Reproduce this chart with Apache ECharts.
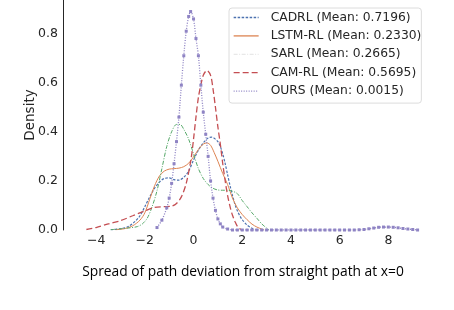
<!DOCTYPE html>
<html>
<head>
<meta charset="utf-8">
<script src="https://cdn.jsdelivr.net/npm/echarts@6/dist/echarts.min.js"></script>
<style>html,body{margin:0;padding:0;background:#fff;}#c{width:454px;height:310px;}</style>
</head>
<body>
<div id="c"></div>
<script>
// Estimated KDE curves
var seriesNames = ['CADRL (Mean: 0.7196)', 'LSTM-RL (Mean: 0.2330)', 'SARL (Mean: 0.2665)', 'CAM-RL (Mean: 0.5695)', 'OURS (Mean: 0.0015)'];
var xTicks = [-4, -2, 0, 2, 4, 6, 8];
var yTicks = [0, 0.2, 0.4, 0.6, 0.8];

var cadrlX = [-3.4,-3.0,-2.7,-2.4,-2.2,-2.0,-1.8,-1.6,-1.4,-1.2,-1.0,-0.8,-0.6,-0.4,-0.2,0.0,0.2,0.4,0.6,0.75,0.9,1.0,1.1,1.2,1.3,1.4,1.5,1.6,1.7,1.8,1.9,2.0,2.2,2.4,2.55];
var cadrlY = [0.001,0.005,0.013,0.035,0.058,0.095,0.135,0.17,0.195,0.21,0.212,0.205,0.203,0.215,0.24,0.285,0.325,0.355,0.375,0.378,0.37,0.36,0.34,0.31,0.27,0.225,0.18,0.14,0.105,0.078,0.058,0.042,0.02,0.007,0.0];

var lstmX = [-3.2,-2.8,-2.5,-2.2,-2.0,-1.8,-1.6,-1.4,-1.2,-1.0,-0.8,-0.6,-0.4,-0.2,0.0,0.2,0.4,0.55,0.7,0.85,1.0,1.2,1.4,1.6,1.8,2.0,2.2,2.4,2.6,2.8,2.9];
var lstmY = [0.001,0.006,0.017,0.04,0.07,0.125,0.18,0.22,0.24,0.248,0.25,0.252,0.258,0.272,0.298,0.328,0.35,0.355,0.345,0.315,0.28,0.23,0.185,0.13,0.09,0.063,0.042,0.024,0.012,0.004,0.0];

var sarlX = [-3.4,-3.0,-2.6,-2.3,-2.1,-1.9,-1.7,-1.5,-1.3,-1.1,-0.9,-0.7,-0.55,-0.4,-0.2,0.0,0.2,0.4,0.6,0.8,1.0,1.2,1.4,1.6,1.8,2.0,2.2,2.4,2.6,2.8,3.0,3.1];
var sarlY = [0.001,0.005,0.009,0.014,0.025,0.048,0.095,0.16,0.25,0.34,0.40,0.43,0.43,0.41,0.37,0.31,0.25,0.21,0.185,0.17,0.163,0.162,0.162,0.158,0.148,0.12,0.095,0.07,0.048,0.025,0.008,0.0];

var camX = [-4.4,-4.0,-3.5,-3.0,-2.5,-2.0,-1.6,-1.2,-0.9,-0.7,-0.5,-0.3,-0.1,0.0,0.1,0.2,0.3,0.4,0.55,0.7,0.8,0.9,1.0,1.1,1.2,1.3,1.4,1.5,1.6,1.7,1.8,1.9,2.0];
var camY = [0.002,0.01,0.025,0.038,0.058,0.078,0.092,0.095,0.097,0.108,0.135,0.19,0.29,0.37,0.46,0.54,0.59,0.63,0.65,0.63,0.575,0.50,0.42,0.35,0.27,0.20,0.14,0.095,0.06,0.035,0.015,0.005,0.0];

var oursX = [-1.5,-1.3,-1.1,-1.0,-0.9,-0.8,-0.7,-0.6,-0.5,-0.4,-0.3,-0.2,-0.12,0.0,0.1,0.2,0.3,0.4,0.5,0.6,0.7,0.8,0.9,1.0,1.1,1.2,1.4,1.6,1.8,2.0,2.2,2.4,2.6,2.8,3.0,3.2,3.4,3.6,3.8,4.0,4.2,4.4,4.6,4.8,5.0,5.2,5.4,5.6,5.8,6.0,6.2,6.4,6.6,6.8,7.0,7.2,7.4,7.6,7.8,8.0,8.2,8.4,8.6,8.8,9.0,9.2];
var oursY = [0.01,0.04,0.09,0.13,0.19,0.27,0.36,0.46,0.59,0.71,0.81,0.87,0.89,0.86,0.78,0.71,0.59,0.48,0.39,0.30,0.20,0.13,0.08,0.045,0.025,0.012,0.004,0.0,0.0,0.0,0.0,0.0,0.0,0.0,0.0,0.0,0.0,0.0,0.0,0.0,0.0,0.0,0.0,0.0,0.0,0.0,0.0,0.0,0.0,0.0,0.0,0.0,0.0,0.001,0.002,0.005,0.008,0.011,0.012,0.012,0.011,0.009,0.006,0.004,0.002,0.0];

function pairs(xs, ys) { return xs.map(function (x, i) { return [x, ys[i]]; }); }

var colors = ['#4c72b0', '#dd8452', '#55a868', '#c44e52', '#8f84c4'];
var styles = [
  {type: [2.5, 1.5], width: 1.2},
  {type: 'solid', width: 1},
  {type: [4, 1.5, 1, 1.5], width: 1},
  {type: [6, 3], width: 1.3},
  {type: [1, 1.5], width: 1.3}
];
var datasets = [pairs(cadrlX, cadrlY), pairs(lstmX, lstmY), pairs(sarlX, sarlY), pairs(camX, camY), pairs(oursX, oursY)];

var series = datasets.map(function (d, i) {
  var isOurs = i === 4;
  return {
    name: seriesNames[i],
    type: 'line',
    data: d,
    smooth: 0.3,
    symbol: isOurs ? 'rect' : 'none',
    symbolSize: isOurs ? 3 : 0,
    showSymbol: isOurs,
    itemStyle: {color: colors[i]},
    lineStyle: {color: colors[i], type: styles[i].type, width: styles[i].width},
    z: isOurs ? 3 : 2,
    silent: true,
    animation: false
  };
});

function fmt(v) {
  var s = (Math.abs(v) < 1e-9) ? '0' : String(Math.round(v * 10) / 10);
  return s.replace('-', '\u2212');
}

var legendData = seriesNames.map(function (n, i) {
  return {name: n, lineStyle: {width: 1.3, color: i === 2 ? '#e8e8e8' : colors[i], type: styles[i].type}};
});

var chart = echarts.init(document.getElementById('c'), null, {renderer: 'canvas'});
chart.setOption({
  animation: false,
  backgroundColor: '#fff',
  grid: {left: 63, top: 0, width: 367, height: 230, containLabel: false},
  legend: {
    orient: 'vertical',
    left: 229, top: 8,
    padding: [2.5, 0, 5, 4],
    itemWidth: 25, itemHeight: 14, itemGap: 4.4,
    backgroundColor: '#fff',
    borderColor: '#dcdcdc', borderWidth: 1, borderRadius: 3,
    itemStyle: {opacity: 0},
    textStyle: {fontFamily: 'DejaVu Sans', fontSize: 12.3, color: '#262626', padding: [0, 0, 0, 7], lineHeight: 14},
    data: legendData
  },
  xAxis: {
    type: 'value', min: -5.36, max: 9.71,
    name: 'Spread of path deviation from straight path at x=0',
    nameLocation: 'middle', nameGap: 35,
    nameTextStyle: {fontFamily: 'Open Sans', fontSize: 13.8, color: '#000', padding: [0, 7, 0, 0]},
    axisLine: {show: false}, axisTick: {show: false}, splitLine: {show: false},
    axisLabel: {customValues: xTicks, formatter: fmt, fontFamily: 'DejaVu Sans', fontSize: 12.5, color: '#262626', margin: 4}
  },
  yAxis: {
    type: 'value', min: 0, max: 0.937,
    name: 'Density', nameLocation: 'middle', nameGap: 26, nameRotate: 90,
    nameMoveOverlap: false,
    nameTextStyle: {fontFamily: 'DejaVu Sans', fontSize: 13.5, color: '#262626'},
    axisLine: {show: true, onZero: false, lineStyle: {color: '#262626', width: 1}},
    axisTick: {show: false}, splitLine: {show: false},
    axisLabel: {customValues: yTicks, formatter: function (v) { return v.toFixed(1); }, fontFamily: 'DejaVu Sans', fontSize: 12.5, color: '#262626', margin: 5}
  },
  series: series
});
</script>
</body>
</html>
